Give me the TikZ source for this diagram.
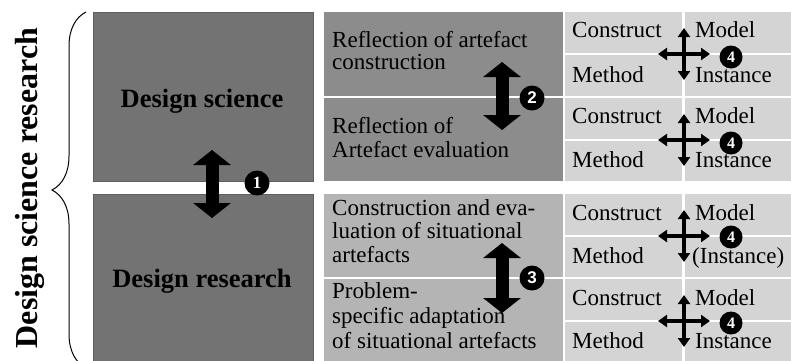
\documentclass[tikz,border=0pt]{standalone}
\usepackage{fontspec}
\setmainfont{Liberation Serif}
\newfontfamily\badgesans{Liberation Sans}
\usetikzlibrary{arrows.meta,decorations.pathreplacing}

\definecolor{boxdark}{RGB}{115,115,115}
\definecolor{boxmid}{RGB}{140,140,140}
\definecolor{boxlight}{RGB}{180,180,180}
\definecolor{cellgray}{RGB}{212,212,212}
\definecolor{edgegray}{RGB}{95,95,95}

\begin{document}
\begin{tikzpicture}[x=1pt,y=-1pt,
  darkfill/.style={fill=boxdark,draw=edgegray,line width=0.6pt},
  midfill/.style={fill=boxmid},
  lightfill/.style={fill=boxlight},
  cellfill/.style={fill=cellgray},
  headtext/.style={font=\bfseries\fontsize{26.5}{28}\selectfont,anchor=base,inner sep=0pt},
  sidetext/.style={font=\bfseries\fontsize{32}{34}\selectfont,rotate=90,inner sep=0pt},
  linetext/.style={font=\fontsize{23}{24}\selectfont,anchor=base west,inner sep=0pt},
  celltext/.style={font=\fontsize{23}{24}\selectfont,anchor=base west,inner sep=0pt},
  bigarrow/.style={line width=13pt,
    {Triangle[width=37pt,length=15pt]}-{Triangle[width=37pt,length=15pt]}},
  crossarrow/.style={line width=4.5pt,
    {Triangle[width=12pt,length=9pt]}-{Triangle[width=12pt,length=9pt]}},
  badge/.style={circle,fill=black,text=white,inner sep=0pt,minimum size=25pt,
    font=\badgesans\bfseries\fontsize{17}{17}\selectfont},
  smallbadge/.style={circle,fill=black,text=white,inner sep=0pt,minimum size=23pt,
    font=\bfseries\fontsize{16}{16}\selectfont}
]
\useasboundingbox (0,0) rectangle (791,360);

% left column
\path[darkfill] (93,12) rectangle (313,181);
\path[darkfill] (93,194) rectangle (313,362);

% middle column
\path[midfill] (324,12) rectangle (563,96);
\path[midfill] (324,98) rectangle (563,181);
\path[lightfill] (324,194) rectangle (563,277);
\path[lightfill] (324,279) rectangle (563,362);

% right column: four blocks of two rows, two cells each
\foreach \ya/\yb in {12/53,55/96,98/139,141/181,194/235,237/277,279/320,322/362}{
  \path[cellfill] (565,\ya) rectangle (682,\yb);
  \path[cellfill] (685,\ya) rectangle (793,\yb);
}

% brace and its label
\coordinate (braceb) at (86,368);
\coordinate (bracet) at (86,12);
\draw[line width=1pt,decorate,decoration={brace,amplitude=34pt}] (braceb) -- (bracet);
\node[sidetext] (dsr) at (30,188) {Design science research};

% left labels
\node[headtext] (ds) at (202,107) {Design science};
\node[headtext] (dr) at (202,287) {Design research};

% middle labels
\node[linetext] (r1a) at (332,47) {Reflection of artefact};
\node[linetext] (r1b) at (332,69) {construction};
\node[linetext] (r2a) at (332,133) {Reflection of};
\node[linetext] (r2b) at (332,157) {Artefact evaluation};
\node[linetext] (c3a) at (332,215) {Construction and eva-};
\node[linetext] (c3b) at (332,238) {luation of situational};
\node[linetext] (c3c) at (332,262) {artefacts};
\node[linetext] (p4a) at (332,298) {Problem-};
\node[linetext] (p4b) at (332,323) {specific adaptation};
\node[linetext] (p4c) at (332,348) {of situational artefacts};

% right labels
\foreach \n/\ya/\yb in {1/37/82,2/123/167,3/220/263,4/305/348}{
  \node[celltext] (con\n) at (572,\ya) {Construct};
  \node[celltext] (met\n) at (572,\yb) {Method};
  \node[celltext] (mod\n) at (695,\ya) {Model};
}
\node[celltext] (ins1) at (695,82) {Instance};
\node[celltext] (ins2) at (695,167) {Instance};
\node[celltext] (ins3) at (692,263) {(Instance)};
\node[celltext] (ins4) at (695,348) {Instance};

% double arrows between the paired boxes
\coordinate (a1t) at (212,150);
\coordinate (a1b) at (212,218);
\draw[bigarrow] (a1t) -- (a1b);
\node[badge,font=\bfseries\fontsize{17}{17}\selectfont] (b1) at (257,183) {1};

\coordinate (a2t) at (502,62);
\coordinate (a2b) at (502,130);
\draw[bigarrow] (a2t) -- (a2b);
\node[badge] (b2) at (532,98) {2};

\coordinate (a3t) at (502,243);
\coordinate (a3b) at (502,313);
\draw[bigarrow] (a3t) -- (a3b);
\node[badge] (b3) at (532,278) {3};

% crosses linking the four artefact types
\foreach \n/\yc/\yd in {1/54/57,2/140/143,3/236/237,4/321/323}{
  \coordinate (x\n l) at (658,\yc);
  \coordinate (x\n r) at (710,\yc);
  \coordinate (x\n t) at (684,\yc-26);
  \coordinate (x\n b) at (684,\yc+26);
  \draw[crossarrow] (x\n l) -- (x\n r);
  \draw[crossarrow] (x\n t) -- (x\n b);
  \node[smallbadge] (f\n) at (731,\yd) {4};
}
\end{tikzpicture}
\end{document}
